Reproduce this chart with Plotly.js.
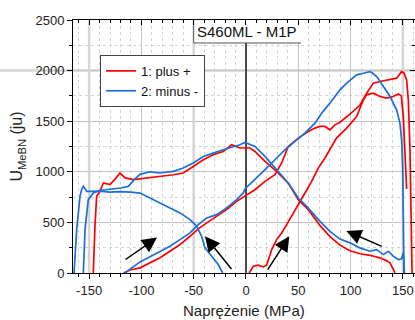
<!DOCTYPE html>
<html>
<head>
<meta charset="utf-8">
<script src="https://cdn.plot.ly/plotly-3.0.1.min.js"></script>
<style>html,body{margin:0;padding:0;background:#fff;}#chart{width:415px;height:320px;}</style>
</head>
<body>
<div id="chart"></div>
<script>
// ---- Series 1: plus + (red) ----
// branch rising from ~0 MPa
const plusUpAX = [3, 5, 7, 11.8, 16.6, 19.8, 22, 24.6, 29.3, 34.1, 38.9, 43.7, 50, 56.4, 62.8, 69.1, 75.5, 81.9, 86.7, 96.3, 105.8, 112.2, 115.4, 121.7, 128.1, 134.5, 140.8, 145.6, 148.5, 150.4, 152, 153.6];
const plusUpAY = [0, 40, 67, 77, 60, 80, 150, 232, 330, 396, 478, 560, 675, 791, 905, 1037, 1136, 1250, 1335, 1432, 1546, 1711, 1761, 1777, 1744, 1728, 1744, 1770, 1750, 1550, 1200, 830];
// branch with decreasing stress
const plusDownX = [142.5, 140.8, 137.7, 134.5, 128.1, 118.5, 109, 99.4, 89.9, 80.3, 70.7, 59.6, 50, 40.4, 29.3, 18.2, 8.6, 3.8, -1, -5.7, -13.7, -21.7, -31.3, -40.8, -50.4, -60, -69.5, -82.2, -91.8, -99.7, -107.7, -115.5, -120.5, -125, -130, -136.4, -139.6, -142.8, -144.4, -146];
const plusDownY = [0, 35, 100, 120, 150, 175, 190, 220, 275, 360, 470, 626, 725, 889, 1004, 1103, 1201, 1235, 1235, 1235, 1267, 1201, 1169, 1119, 1053, 988, 971, 955, 939, 930, 922, 940, 988, 930, 873, 890, 807, 757, 462, 0];
// branch rising from ~-117 MPa
const plusUpBX = [-117, -110.9, -101.3, -91.8, -82.2, -72.7, -63.1, -53.5, -45.6, -37.6, -28, -18.5, -8.9, 0.6, 8.6, 18.2, 27.7, 34.1, 40.4, 50, 59.6, 66, 70.7, 75.5, 80.3, 85, 89.9, 99.4, 109, 115.4, 121.7, 128.1, 137.7, 144, 148.8, 151, 153.6, 155.2, 156.8, 157.7, 158.8];
const plusUpBY = [0, 30, 51, 100, 150, 215, 281, 363, 436, 495, 560, 626, 708, 774, 823, 905, 971, 1087, 1250, 1333, 1399, 1432, 1448, 1448, 1415, 1464, 1490, 1570, 1660, 1777, 1876, 1892, 1908, 1925, 1990, 1980, 1908, 1711, 1218, 560, 0];

// ---- Series 2: minus - (blue) ----
const minusDownAX = [-22.3, -26.5, -32.8, -39.2, -42.4, -47.1, -53.5, -63.1, -72.7, -82.2, -91.8, -101.3, -110, -120, -130, -140, -149, -152.3, -155.5, -157, -158.7, -161.9, -164.4];
const minusDownAY = [0, 84, 166, 249, 363, 462, 528, 594, 643, 692, 745, 790, 800, 805, 800, 810, 807, 807, 856, 830, 757, 429, 0];
const minusUpX = [-115.7, -110, -104.5, -101.3, -91.8, -82.2, -72.7, -63.1, -53.5, -45.6, -37.6, -28, -18.5, -8.9, -2.6, -1, 8.6, 18.2, 27.7, 37.3, 46.8, 56.4, 66, 72.4, 80.3, 89.9, 96.3, 105.8, 112.2, 118.5, 120.2, 125, 131.4, 137.7, 144, 147.2, 148.8, 149.8, 150.4, 151];
const minusUpY = [0, 40, 84, 110, 160, 215, 264, 330, 396, 478, 544, 577, 643, 725, 791, 830, 922, 1021, 1119, 1218, 1300, 1383, 1481, 1580, 1680, 1810, 1876, 1958, 1974, 1990, 1981, 1941, 1843, 1744, 1612, 1481, 1317, 1053, 560, 0];
const minusDownBX = [151.5, 150.5, 148.8, 145.6, 140.8, 136.1, 131.4, 125, 118.5, 109, 99.4, 89.9, 80.3, 69.1, 59.6, 50, 40.4, 29.3, 18.2, 8.6, 3.8, -1, -5.7, -12.1, -21.7, -31.3, -40.8, -50.4, -60, -69.5, -82.2, -91.8, -101.3, -107, -112.5, -120, -130, -140, -146, -150.8, -153.9, -155.5];
const minusDownBY = [0, 200, 140, 133, 166, 215, 182, 231, 215, 248, 298, 335, 412, 528, 642, 741, 889, 1021, 1152, 1250, 1267, 1290, 1267, 1250, 1218, 1185, 1152, 1087, 1037, 1004, 988, 1000, 975, 920, 856, 840, 830, 815, 791, 725, 429, 0];

// arrows: [tailX, tailY] -> [headX, headY]
const arrowTail = [[-116.6, 123], [-12.7, 25], [19.8, 18], [131.3, 256]];
const arrowHead = [[-85, 350], [-39.2, 363], [41.4, 363], [96, 415]];

const seriesNames = ['1: plus +', '2: minus -'];
const xTicks = [-150, -100, -50, 0, 50, 100, 150];
const yTicks = [0, 500, 1000, 1500, 2000, 2500];
const titleText = 'S460ML - M1P';
const xTitleText = 'Naprężenie (MPa)';
const yTitleText = 'U<sub>MeBN</sub> (ju)';

function joinBranches(list) {
  const xs = [], ys = [];
  list.forEach((b, i) => {
    if (i) { xs.push(null); ys.push(null); }
    xs.push(...b[0]); ys.push(...b[1]);
  });
  return [xs, ys];
}

const red = joinBranches([[plusUpAX, plusUpAY], [plusDownX, plusDownY], [plusUpBX, plusUpBY]]);
const blue = joinBranches([[minusDownAX, minusDownAY], [minusUpX, minusUpY], [minusDownBX, minusDownBY]]);

const XR = [-165.4, 161.6], YR = [0, 2500];
const FONT = 'Liberation Sans, Arial, sans-serif';

const traces = [
  {x: red[0], y: red[1], mode: 'lines', name: seriesNames[0], connectgaps: false,
   line: {color: '#ff0000', width: 1.7}},
  {x: blue[0], y: blue[1], mode: 'lines', name: seriesNames[1], connectgaps: false,
   line: {color: '#1a6fd8', width: 1.7}},
  {x: [], y: [], xaxis: 'x2', yaxis: 'y2', showlegend: false, hoverinfo: 'skip'}
];

const gridMajor = '#c4c4c4', gridMinor = '#d4d4d4';
const shapes = [
  {type: 'line', xref: 'x', yref: 'y', x0: -150, x1: -150, y0: 0, y1: 2500, line: {color: '#d6d6d6', width: 2.5}, layer: 'between'},
  {type: 'line', xref: 'x', yref: 'y', x0: -50, x1: -50, y0: 0, y1: 2500, line: {color: '#d6d6d6', width: 2.5}, layer: 'between'},
  {type: 'line', xref: 'x', yref: 'y', x0: 150, x1: 150, y0: 0, y1: 2500, line: {color: '#d6d6d6', width: 2.5}, layer: 'between'},
  {type: 'line', xref: 'paper', yref: 'y', x0: -0.2135, x1: 1, y0: 2000, y1: 2000, line: {color: '#d6d6d6', width: 2.5}, layer: 'between'},
  {type: 'line', xref: 'x', yref: 'y', x0: 0, x1: 0, y0: 0, y1: 2500, line: {color: '#4a4a4a', width: 2}, layer: 'between'},
  {type: 'rect', xref: 'x', yref: 'y', x0: -50, x1: 52.6, y0: 2273, y1: 2500, fillcolor: '#ffffff', line: {width: 0}, layer: 'between'},
  {type: 'line', xref: 'x', yref: 'y', x0: -50, x1: -50, y0: 2273, y1: 2500, line: {color: '#555555', width: 1}, layer: 'between'},
  {type: 'line', xref: 'x', yref: 'y', x0: -50, x1: 52.6, y0: 2273, y1: 2273, line: {color: '#555555', width: 1}, layer: 'between'}
];

const annotations = [
  {x: 1, y: 2388, xref: 'x', yref: 'y', text: titleText, showarrow: false,
   font: {family: FONT, size: 15, color: '#111'}, xanchor: 'center', yanchor: 'middle'},
  {x: 0.5, y: -0.15, xref: 'paper', yref: 'paper', text: xTitleText, showarrow: false,
   font: {family: FONT, size: 15, color: '#222'}, xanchor: 'center', yanchor: 'middle'}
];
arrowTail.forEach((t, i) => {
  annotations.push({x: arrowHead[i][0], y: arrowHead[i][1], ax: t[0], ay: t[1], xref: 'x', yref: 'y', axref: 'x', ayref: 'y',
    showarrow: true, arrowhead: 2, arrowsize: 2, arrowwidth: 1.5, arrowcolor: '#000', standoff: 0, text: ''});
});

const layout = {
  width: 415, height: 320,
  margin: {l: 73, r: 0, t: 20, b: 47, pad: 0},
  paper_bgcolor: '#ffffff', plot_bgcolor: '#ffffff',
  font: {family: FONT, size: 13, color: '#222'},
  showlegend: true,
  legend: {x: 0.079, y: 0.862, xanchor: 'left', yanchor: 'top', bgcolor: '#ffffff', bordercolor: '#444', borderwidth: 1,
    font: {family: FONT, size: 13, color: '#111'}, itemwidth: 30, tracegroupgap: 0},
  xaxis: {range: XR, tickvals: xTicks, ticktext: xTicks.map(String), ticks: 'outside', ticklen: 5, tickcolor: '#000', tickwidth: 1,
    showline: true, linecolor: '#000', linewidth: 1, mirror: true, zeroline: false,
    showgrid: true, gridcolor: gridMajor, gridwidth: 1,
    minor: {dtick: 10, tick0: 0, ticks: 'outside', ticklen: 3, tickcolor: '#000', showgrid: true, gridcolor: gridMinor, griddash: 'dot', gridwidth: 1},
    tickfont: {family: FONT, size: 13, color: '#222'}},
  yaxis: {range: YR, tickvals: yTicks, ticks: 'outside', ticklen: 5, tickcolor: '#000', tickwidth: 1,
    showline: true, linecolor: '#000', linewidth: 1, mirror: true, zeroline: false,
    showgrid: true, gridcolor: gridMajor, gridwidth: 1,
    minor: {dtick: 250, tick0: 0, ticks: 'outside', ticklen: 3, tickcolor: '#000', showgrid: true, gridcolor: gridMinor, griddash: 'dot', gridwidth: 1},
    tickfont: {family: FONT, size: 13, color: '#222'},
    title: {text: yTitleText, font: {family: FONT, size: 16, color: '#222'}, standoff: 8}},
  xaxis2: {range: XR, overlaying: 'x', side: 'top', tickvals: xTicks, ticks: 'inside', ticklen: 5, tickcolor: '#000',
    showticklabels: false, showgrid: false, zeroline: false, showline: false,
    minor: {dtick: 10, tick0: 0, ticks: 'inside', ticklen: 3, tickcolor: '#000', showgrid: false}},
  yaxis2: {range: YR, overlaying: 'y', side: 'right', tickvals: yTicks, ticks: 'inside', ticklen: 5, tickcolor: '#000',
    showticklabels: false, showgrid: false, zeroline: false, showline: false,
    minor: {dtick: 250, tick0: 0, ticks: 'inside', ticklen: 3, tickcolor: '#000', showgrid: false}},
  shapes: shapes,
  annotations: annotations
};

Plotly.newPlot('chart', traces, layout, {displayModeBar: false, staticPlot: true});
</script>
</body>
</html>
